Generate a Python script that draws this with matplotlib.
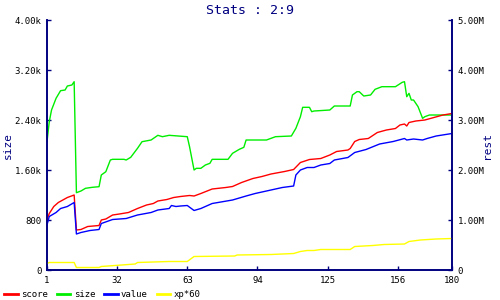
import matplotlib
matplotlib.use("Agg")
import matplotlib.pyplot as plt

# game index / value pairs
size_x = [1, 2, 3, 5, 7, 9, 10, 12, 13, 14, 16, 18, 21, 24, 25, 27, 29, 30, 35, 36, 38, 41, 43, 47,
          50, 52, 55, 63, 64, 66, 67, 69, 71, 73, 74, 81, 83, 86, 88, 89, 98, 102, 109, 111, 113,
          114, 117, 118, 119, 126, 128, 135, 136, 138, 139, 141, 144, 146, 149, 155, 158, 159,
          160, 161, 162, 163, 164, 165, 167, 168, 170, 180]
size_y = [2053, 2373, 2560, 2747, 2869, 2880, 2944, 2960, 3013, 1237, 1264, 1307, 1323, 1333, 1520,
          1573, 1760, 1771, 1771, 1760, 1803, 1947, 2053, 2080, 2155, 2133, 2155, 2133, 1973, 1600,
          1627, 1627, 1680, 1707, 1771, 1771, 1867, 1931, 1963, 2080, 2080, 2133, 2144, 2267, 2453,
          2603, 2603, 2533, 2544, 2560, 2624, 2624, 2800, 2853, 2853, 2784, 2800, 2891, 2933, 2933,
          3003, 3013, 2773, 2827, 2720, 2720, 2667, 2613, 2427, 2453, 2480, 2480]

score_x = [1, 2, 4, 6, 8, 10, 13, 14, 16, 19, 24, 25, 27, 30, 33, 37, 41, 45, 48, 50, 54, 57, 60,
           64, 66, 69, 74, 80, 83, 87, 92, 96, 100, 106, 110, 113, 117, 122, 126, 129, 134, 135,
           137, 139, 143, 147, 151, 155, 157, 159, 160, 161, 164, 168, 172, 176, 180]
score_y = [1.00, 1.13, 1.27, 1.35, 1.40, 1.45, 1.50, 0.80, 0.81, 0.87, 0.89, 1.00, 1.02, 1.10, 1.12,
           1.15, 1.23, 1.30, 1.33, 1.38, 1.41, 1.45, 1.47, 1.49, 1.48, 1.53, 1.62, 1.65, 1.67, 1.75,
           1.83, 1.87, 1.92, 1.97, 2.01, 2.15, 2.21, 2.23, 2.30, 2.37, 2.40, 2.43, 2.57, 2.61, 2.63,
           2.75, 2.80, 2.83, 2.90, 2.92, 2.88, 2.95, 2.98, 3.00, 3.05, 3.10, 3.13]

value_x = [1, 2, 5, 7, 10, 13, 14, 16, 20, 24, 25, 30, 36, 41, 47, 50, 55, 56, 58, 60, 63, 66, 69,
           74, 83, 89, 93, 100, 105, 110, 111, 113, 116, 119, 122, 126, 128, 134, 137, 142, 148,
           154, 159, 160, 163, 167, 169, 173, 180]
value_y = [0.90, 1.07, 1.15, 1.23, 1.27, 1.35, 0.72, 0.75, 0.79, 0.81, 0.93, 1.01, 1.03, 1.10, 1.15,
           1.20, 1.23, 1.29, 1.27, 1.28, 1.29, 1.19, 1.23, 1.33, 1.40, 1.48, 1.53, 1.60, 1.65, 1.68,
           1.90, 2.00, 2.05, 2.05, 2.10, 2.13, 2.20, 2.25, 2.35, 2.41, 2.52, 2.57, 2.63, 2.60, 2.62,
           2.60, 2.63, 2.68, 2.73]

xp_x = [1, 2, 13, 14, 24, 25, 31, 40, 41, 55, 63, 66, 84, 85, 100, 110, 113, 116, 119, 122, 135,
        137, 145, 150, 159, 161, 166, 173, 180]
xp_y = [0.13, 0.15, 0.15, 0.05, 0.05, 0.07, 0.09, 0.12, 0.15, 0.17, 0.17, 0.27, 0.28, 0.30, 0.31,
        0.33, 0.37, 0.39, 0.39, 0.41, 0.41, 0.47, 0.49, 0.51, 0.52, 0.57, 0.60, 0.62, 0.63]

x_ticks = [1, 32, 63, 94, 125, 156, 180]
left_ticks = [0, 800, 1600, 2400, 3200, 4000]
left_labels = ["0", "800", "1.60k", "2.40k", "3.20k", "4.00k"]
right_ticks = [0, 1, 2, 3, 4, 5]
right_labels = ["0", "1.00M", "2.00M", "3.00M", "4.00M", "5.00M"]

navy = "#000080"
mono = "DejaVu Sans Mono"

fig = plt.figure(figsize=(5, 3), dpi=100)
ax = fig.add_axes([0.094, 0.1, 0.81, 0.8333])
ax2 = ax.twinx()

l_size, = ax.plot(size_x, size_y, color="#00ee00", lw=1, label="size")
l_score, = ax2.plot(score_x, score_y, color="#ff0000", lw=1, label="score")
l_value, = ax2.plot(value_x, value_y, color="#0000ff", lw=1, label="value")
l_xp, = ax2.plot(xp_x, xp_y, color="#ffff00", lw=1, label="xp*60")

ax.set_xlim(1, 180)
ax.set_ylim(0, 4000)
ax2.set_ylim(0, 5)
ax.set_xticks(x_ticks)
ax.set_xticklabels([str(t) for t in x_ticks], fontfamily=mono, fontsize=6.5)
ax.set_yticks(left_ticks)
ax.set_yticklabels(left_labels, fontfamily=mono, fontsize=6.5)
ax2.set_yticks(right_ticks)
ax2.set_yticklabels(right_labels, fontfamily=mono, fontsize=6.5)

for a in (ax, ax2):
    a.spines["top"].set_visible(False)
    for s in ("left", "right", "bottom"):
        a.spines[s].set_color(navy)
        a.spines[s].set_linewidth(1.2)
    a.tick_params(direction="in", length=3, width=1, color=navy, pad=4)

ax.set_ylabel("size", color=navy, fontfamily=mono, fontsize=8)
ax.yaxis.set_label_coords(-0.085, 0.5)
ax2.set_ylabel("rest", color=navy, fontfamily=mono, fontsize=8, rotation=90)
ax2.yaxis.set_label_coords(1.075, 0.5)

fig.text(0.5, 0.965, "Stats : 2:9", color=navy, fontfamily=mono, fontsize=9.5,
         ha="center", va="center")

fig.legend([l_score, l_size, l_value, l_xp], ["score", "size", "value", "xp*60"],
           loc="center left", bbox_to_anchor=(0.005, 0.017), ncol=4, frameon=False,
           prop={"family": mono, "size": 6.5}, handlelength=1.5, handletextpad=0.35,
           columnspacing=1.0, borderpad=0.2, borderaxespad=0)
for h in fig.legends[0].get_lines():
    h.set_linewidth(2)

fig.savefig("out.png", dpi=100)
